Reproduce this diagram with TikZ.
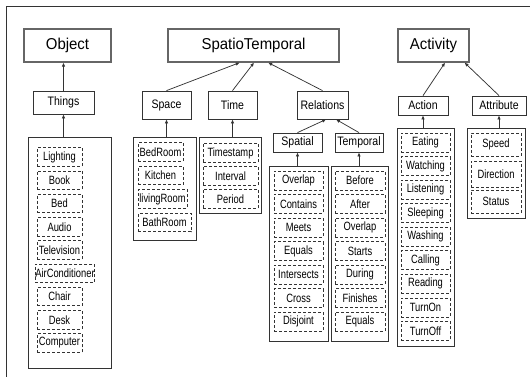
\documentclass[tikz,border=0pt]{standalone}
\usepackage{fontspec}
\setmainfont{Liberation Sans}
\newfontfamily\itemfamily[FakeStretch=0.78]{Liberation Sans}
\newfontfamily\labelfamily[FakeStretch=0.86]{Liberation Sans}
\newfontfamily\titlefamily[FakeStretch=0.95]{Liberation Sans}
\usetikzlibrary{arrows.meta,calc}
\tikzset{
  sz/.style 2 args={minimum width=#1*0.75pt, minimum height=#2*0.75pt},
  frameline/.style={draw=black!80, line width=0.6pt},
  titlebox/.style={draw=black!60, line width=0.9pt, inner sep=0pt, font=\titlefamily\fontsize{11.8}{13}\selectfont},
  labelbox/.style={draw=black!80, line width=0.6pt, inner sep=0pt, font=\labelfamily\fontsize{9.2}{10}\selectfont},
  contbox/.style={draw=black!80, line width=0.6pt, inner sep=0pt},
  itembox/.style={draw=black!80, line width=0.5pt, dash pattern=on 2.25pt off 1.5pt, inner sep=0pt, font=\itemfamily\fontsize{9}{10}\selectfont},
  arr/.style={draw=black!80, line width=0.55pt, -{Latex[length=3pt,width=2.6pt]}},
}
\begin{document}
\begin{tikzpicture}[x=0.75pt,y=-0.75pt]
\useasboundingbox (0,0) rectangle (530,377);
% partial frame
\coordinate (fr1) at (530,6);
\coordinate (fr2) at (6,6);
\coordinate (fr3) at (6,377);
\draw[frameline] (fr1) -- (fr2) -- (fr3);

% top level
\node[titlebox, sz={87}{33}] (object) at (67.5,45.5) {Object};
\node[titlebox, sz={171}{33}] (st) at (253.5,45.5) {SpatioTemporal};
\node[titlebox, sz={71}{33}] (activity) at (433.5,45.5) {Activity};

% second level
\node[labelbox, sz={61}{23}] (things) at (63.5,102.5) {Things};
\node[labelbox, sz={49}{28}] (space) at (166.5,105) {Space};
\node[labelbox, sz={49}{28}] (time) at (232.5,105) {Time};
\node[labelbox, sz={51}{28}] (relations) at (322.5,105) {Relations};
\node[labelbox, sz={50}{19}] (action) at (423,105.5) {Action};
\node[labelbox, sz={54}{19}] (attribute) at (499,105.5) {Attribute};

% third level under relations
\node[labelbox, sz={49}{19}] (spatial) at (297.5,142.5) {Spatial};
\node[labelbox, sz={48}{19}] (temporal) at (359,142.5) {Temporal};

% containers
\node[contbox, sz={83}{231}] (thingsC) at (69.5,252.5) {};
\node[contbox, sz={63}{103}] (spaceC) at (164.5,188.5) {};
\node[contbox, sz={62}{76}] (timeC) at (230,175) {};
\node[contbox, sz={59}{175}] (spatialC) at (298.5,253.5) {};
\node[contbox, sz={57}{175}] (temporalC) at (359.5,253.5) {};
\node[contbox, sz={57}{218}] (actionC) at (425.5,237) {};
\node[contbox, sz={58}{90}] (attributeC) at (496,173) {};

% items: things
\foreach \t/\w/\c [count=\i] in {Lighting/45/59.5, Book/45/59.5, Bed/45/59.5, Audio/45/59.5, Television/45/59.5, AirConditioner/56/65, Chair/45/59.5, Desk/45/59.5, Computer/45/59.5}
  \node[itembox, sz={\w}{18.5}] (th\i) at (\c,{157+(\i-1)*23.25}) {\t};
% items: space
\foreach \t/\w/\c [count=\i] in {BedRoom/45/160.5, Kitchen/45/160.5, livingRoom/49/162.5, BathRoom/53/164.5}
  \node[itembox, sz={\w}{18.5}] (sp\i) at (\c,{152+(\i-1)*23.5}) {\t};
% items: time
\foreach \t [count=\i] in {Timestamp, Interval, Period}
  \node[itembox, sz={55}{19}] (ti\i) at (230.5,{153+(\i-1)*23}) {\t};
% items: spatial
\foreach \t [count=\i] in {Overlap, Contains, Meets, Equals, Intersects, Cross, Disjoint}
  \node[itembox, sz={49}{19}] (sr\i) at (298.5,{180.5+(\i-1)*23.5}) {\t};
% items: temporal
\foreach \t [count=\i] in {Before, After, Overlap, Starts, During, Finishes, Equals}
  \node[itembox, sz={50}{19}] (tr\i) at (360,{180.5+(\i-1)*23.5}) {\t};
% items: action
\foreach \t [count=\i] in {Eating, Watching, Listening, Sleeping, Washing, Calling, Reading, TurnOn, TurnOff}
  \node[itembox, sz={49}{19}] (ac\i) at (425.5,{142.5+(\i-1)*23.55}) {\t};
% items: attribute
\node[itembox, sz={50}{23}] (at1) at (496,144.5) {Speed};
\node[itembox, sz={50}{26}] (at2) at (496,174) {Direction};
\node[itembox, sz={50}{23}] (at3) at (496,201.5) {Status};

% arrows to top level
\draw[arr] (things.north) -- (things.north |- object.south);
\draw[arr] (space.north) -- ($(st.south west)!0.42!(st.south east)$);
\draw[arr] (time.north) -- ($(st.south west)!0.503!(st.south east)$);
\draw[arr] (relations.north) -- ($(st.south west)!0.585!(st.south east)$);
\draw[arr] (action.north) -- ($(activity.south west)!0.66!(activity.south east)$);
\draw[arr] (attribute.north) -- ($(activity.south west)!0.93!(activity.south east)$);
% relations children
\draw[arr] (spatial.north) -- ($(relations.south west)!0.57!(relations.south east)$);
\draw[arr] (temporal.north) -- ($(relations.south west)!0.76!(relations.south east)$);
% containers to labels
\draw[arr] (thingsC.north -| things.south) -- (things.south);
\draw[arr] (spaceC.north -| space.south) -- (space.south);
\draw[arr] (timeC.north -| time.south) -- (time.south);
\draw[arr] (spatialC.north -| spatial.south) -- (spatial.south);
\draw[arr] (temporalC.north -| temporal.south) -- (temporal.south);
\draw[arr] (actionC.north -| action.south) -- (action.south);
\draw[arr] (attributeC.north -| attribute.south) -- (attribute.south);
\end{tikzpicture}
\end{document}
